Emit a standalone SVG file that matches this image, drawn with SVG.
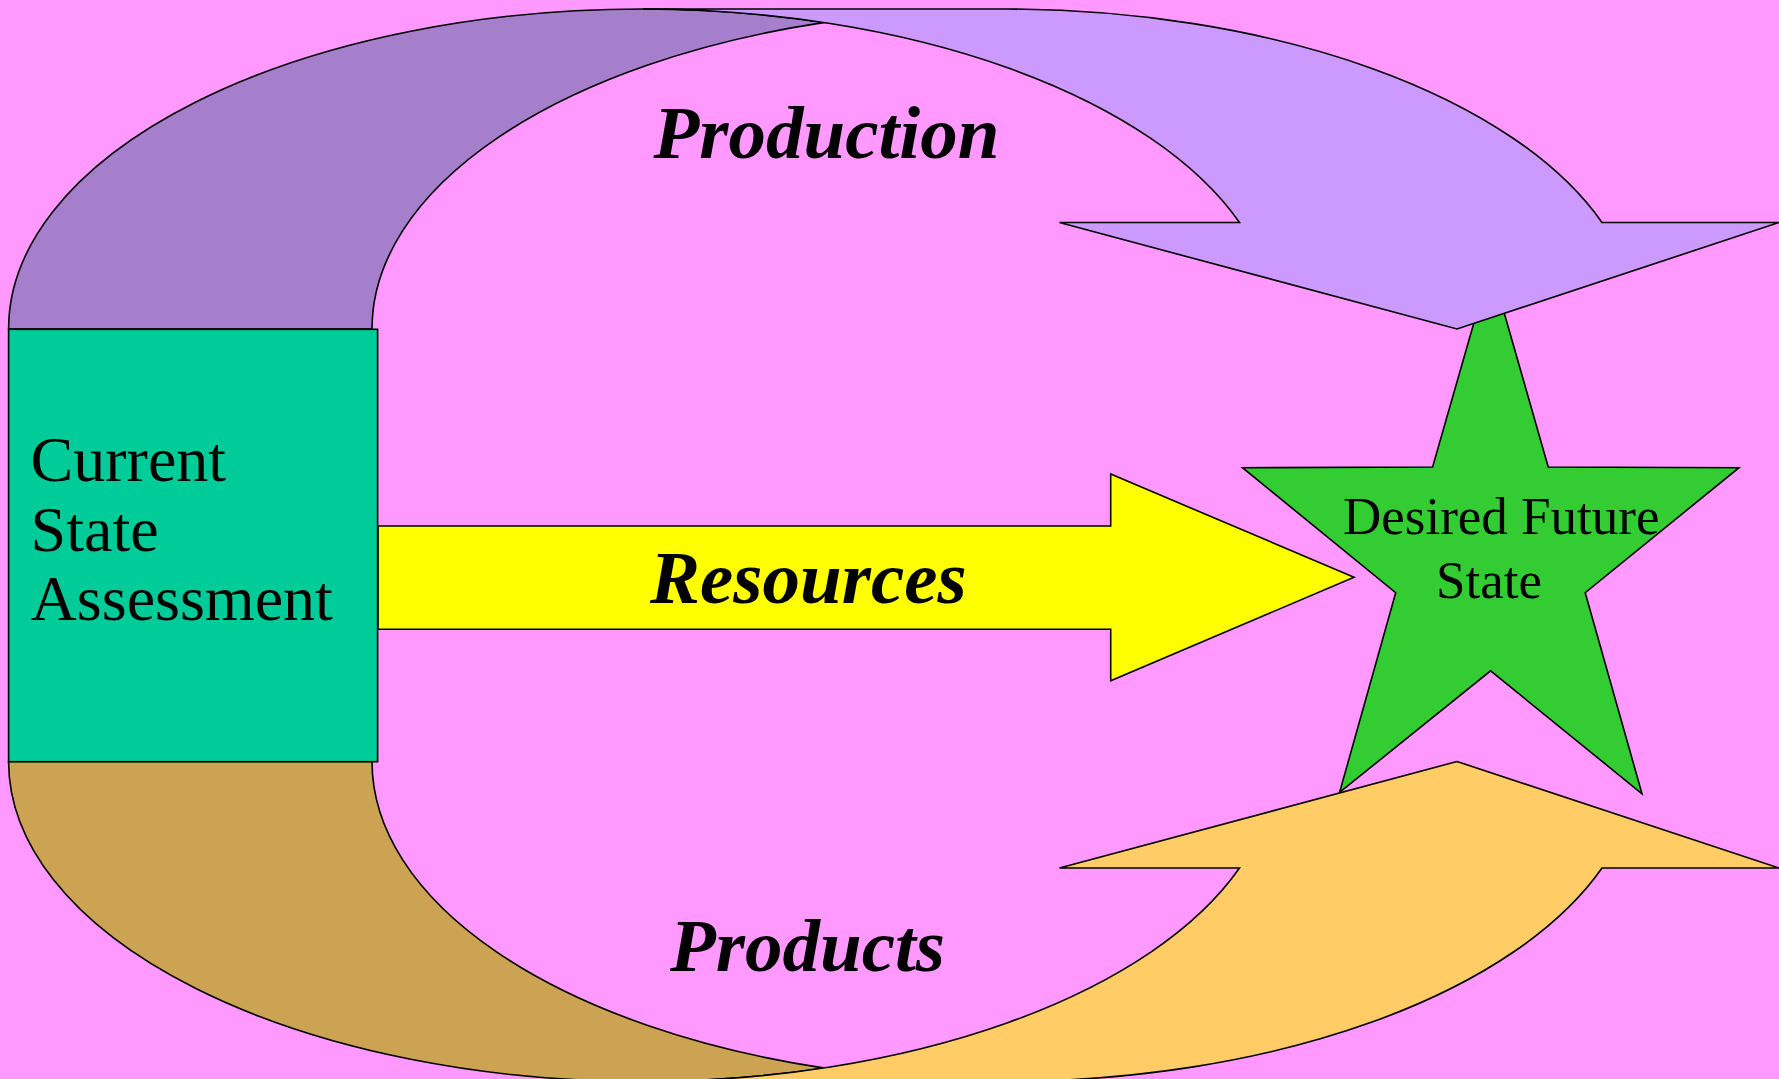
<svg xmlns="http://www.w3.org/2000/svg" width="1779" height="1079" viewBox="0 0 1779 1079">
<style>
.ol{stroke:#000;stroke-width:1.6;stroke-linejoin:miter}
.lbl{font-family:"Liberation Serif","Times New Roman",serif;font-weight:bold;font-style:italic;font-size:75px;fill:#000}
.txt{font-family:"Liberation Serif","Times New Roman",serif;fill:#000}
</style>
<rect width="1779" height="1079" fill="#FF99FF"/>
<g id="desired-future-state">
<polygon class="ol" fill="#33CC33" points="1490.5,265 1548.2,467 1739,467.7 1585.2,592.7 1642,793.8 1490.6,670.8 1339.6,792.4 1395.7,592.7 1242.5,467.7 1432.6,467"/>
<text class="txt" font-size="53" x="1343" y="534">Desired Future</text>
<text class="txt" font-size="53" x="1436" y="597.5">State</text>
</g>
<g id="connectors">
<g id="production-arrow">
<path class="ol" fill="#A67FCC" d="M 8.6,329 A 634.4 320 0 0 1 643,9 A 634.4 320 0 0 1 824.7,22.4 A 634.4 320 0 0 0 372,329 Z"/>
<path class="ol" fill="#CC99FF" d="M 643,9 L 1006.4,9 A 634.4 320 0 0 1 1602,222.5 L 1779,222.5 L 1457,329 L 1059.5,222.5 L 1239.5,222.5 A 634.4 320 0 0 0 643,9 Z"/>
</g>
<g id="products-arrow" transform="translate(0,1090.5) scale(1,-1)">
<path class="ol" fill="#CCA352" d="M 8.6,329 A 634.4 320 0 0 1 643,9 A 634.4 320 0 0 1 824.7,22.4 A 634.4 320 0 0 0 372,329 Z"/>
<path class="ol" fill="#FFCC66" d="M 643,9 L 1006.4,9 A 634.4 320 0 0 1 1602,222.5 L 1779,222.5 L 1457,329 L 1059.5,222.5 L 1239.5,222.5 A 634.4 320 0 0 0 643,9 Z"/>
</g>
<g id="resources-arrow">
<polygon class="ol" fill="#FFFF00" points="378,526 1110.7,526 1110.7,474 1354,577.3 1110.7,680.7 1110.7,629.3 378,629.3"/>
</g>
</g>
<g id="current-state-assessment">
<rect class="ol" fill="#00CC99" x="8.6" y="329.3" width="369" height="432.4"/>
<text class="txt" font-size="64" x="30.6" y="481">Current</text>
<text class="txt" font-size="64" x="30.6" y="551">State</text>
<text class="txt" font-size="64" x="30.6" y="620">Assessment</text>
</g>
<g id="labels">
<text class="lbl" x="653.5" y="158.3">Production</text>
<text class="lbl" x="650" y="602.7">Resources</text>
<text class="lbl" x="670" y="970.7">Products</text>
</g>
</svg>
